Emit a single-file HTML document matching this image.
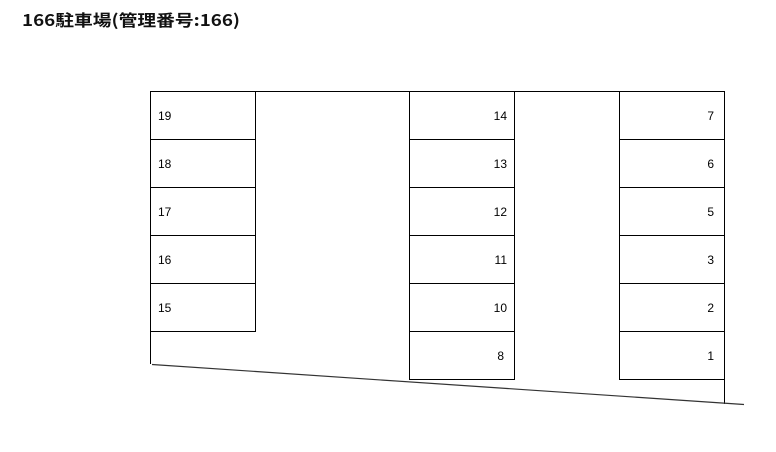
<!DOCTYPE html>
<html><head><meta charset="utf-8"><style>
body{margin:0;background:#fff;}
</style></head><body>
<svg width="776" height="452" xmlns="http://www.w3.org/2000/svg" style="display:block">
<text x="22" y="26" font-family="Noto Sans CJK JP, sans-serif" font-size="16" font-weight="bold" fill="#111" textLength="218" lengthAdjust="spacingAndGlyphs">166駐車場(管理番号:166)</text>
<g stroke="#000" stroke-width="1" fill="none" shape-rendering="crispEdges">
<line x1="150" y1="91.5" x2="724" y2="91.5"/>
<line x1="150.5" y1="91" x2="150.5" y2="364"/>
<line x1="255.5" y1="91" x2="255.5" y2="331"/>
<line x1="150" y1="139.5" x2="256" y2="139.5"/>
<line x1="150" y1="187.5" x2="256" y2="187.5"/>
<line x1="150" y1="235.5" x2="256" y2="235.5"/>
<line x1="150" y1="283.5" x2="256" y2="283.5"/>
<line x1="150" y1="331.5" x2="256" y2="331.5"/>
<line x1="409.5" y1="91" x2="409.5" y2="380"/>
<line x1="514.5" y1="91" x2="514.5" y2="380"/>
<line x1="409" y1="139.5" x2="515" y2="139.5"/>
<line x1="409" y1="187.5" x2="515" y2="187.5"/>
<line x1="409" y1="235.5" x2="515" y2="235.5"/>
<line x1="409" y1="283.5" x2="515" y2="283.5"/>
<line x1="409" y1="331.5" x2="515" y2="331.5"/>
<line x1="409" y1="379.5" x2="515" y2="379.5"/>
<line x1="619.5" y1="91" x2="619.5" y2="380"/>
<line x1="724.5" y1="91" x2="724.5" y2="404"/>
<line x1="619" y1="139.5" x2="725" y2="139.5"/>
<line x1="619" y1="187.5" x2="725" y2="187.5"/>
<line x1="619" y1="235.5" x2="725" y2="235.5"/>
<line x1="619" y1="283.5" x2="725" y2="283.5"/>
<line x1="619" y1="331.5" x2="725" y2="331.5"/>
<line x1="619" y1="379.5" x2="725" y2="379.5"/>
</g>
<line x1="152" y1="364.5" x2="744" y2="404.5" stroke="#333" stroke-width="1.2"/>
<g font-family="Liberation Sans, sans-serif" font-size="12" fill="#000">
<text x="158" y="120">19</text><text x="158" y="168">18</text><text x="158" y="216">17</text><text x="158" y="264">16</text><text x="158" y="312">15</text>
</g>
<g font-family="Liberation Sans, sans-serif" font-size="12" fill="#000" text-anchor="end">
<text x="507" y="120">14</text><text x="507" y="168">13</text><text x="507" y="216">12</text><text x="507" y="264">11</text><text x="507" y="312">10</text><text x="504" y="360">8</text>
<text x="714" y="120">7</text><text x="714" y="168">6</text><text x="714" y="216">5</text><text x="714" y="264">3</text><text x="714" y="312">2</text><text x="714" y="360">1</text>
</g>
</svg>
</body></html>
